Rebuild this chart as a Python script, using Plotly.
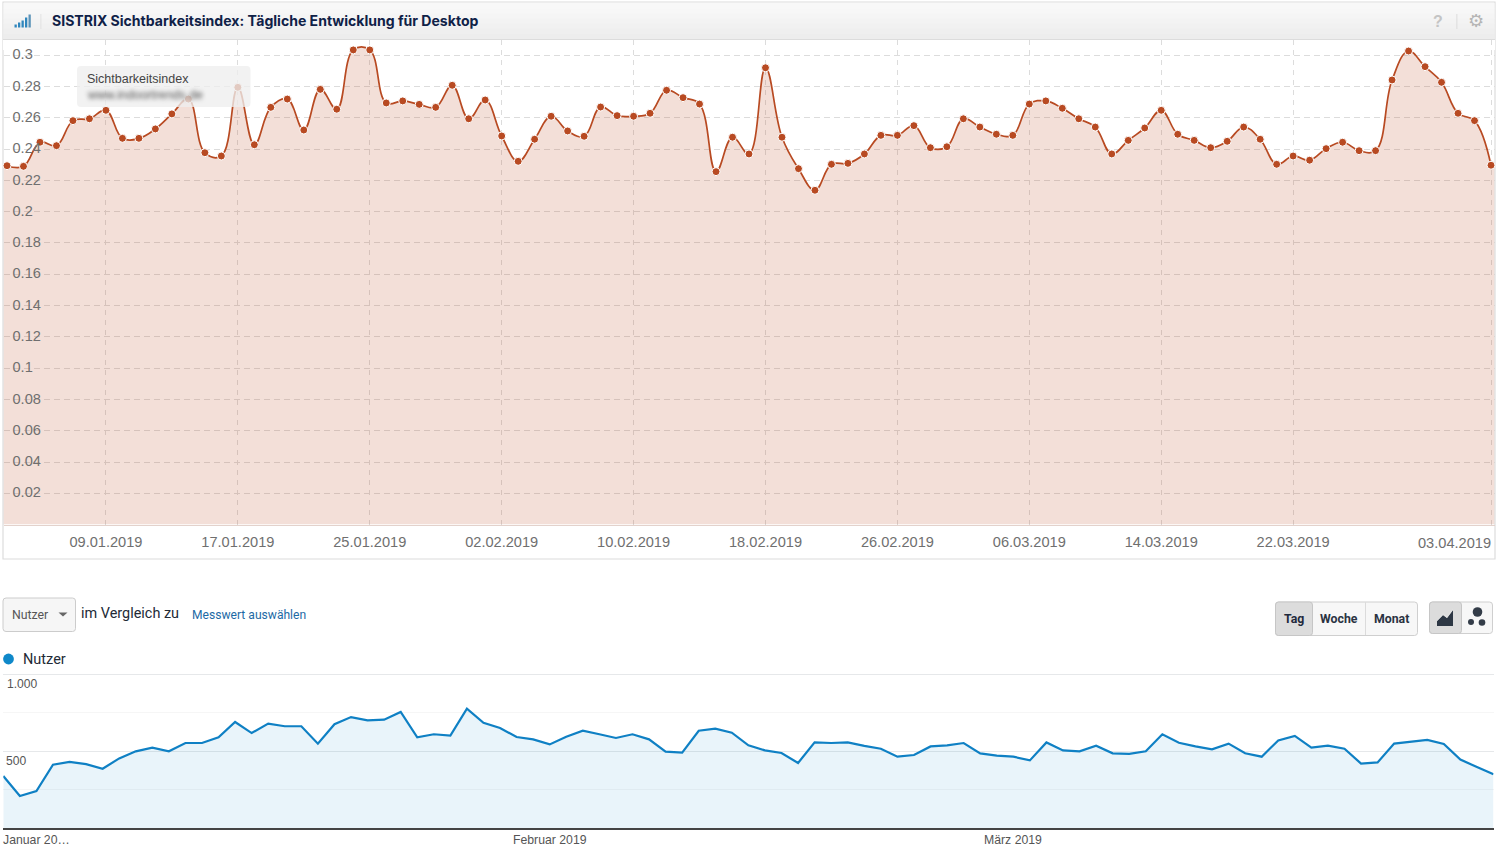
import pandas as pd
import plotly.graph_objects as go

start_date = "2019-01-03"
sichtbarkeit = [
    .2294, .2290, .2444, .2422, .2582, .2594, .2648, .2469, .2469, .2529, .2625, .2720, .2377, .2356, .2795, .2428,
    .2667, .2720, .2522, .2782, .2655, .3034, .3034, .2695, .2708, .2686, .2667, .2808, .2594, .2714, .2484, .2322,
    .2463, .2610, .2516, .2482, .2669, .2614, .2610, .2629, .2776, .2729, .2688, .2256, .2476, .2369, .2920, .2476,
    .2275, .2137, .2303, .2309, .2369, .2488, .2488, .2550, .2409, .2415, .2594, .2541, .2495, .2488, .2688, .2708,
    .2661, .2594, .2541, .2369, .2456, .2535, .2648, .2495, .2456, .2409, .2450, .2541, .2463, .2303, .2356, .2329,
    .2403, .2444, .2390, .2390, .2842, .3027, .2927, .2827, .2629, .2582, .2297,
]
nutzer = [
    338, 208, 241, 412, 430, 416, 386, 453, 499, 523, 499, 553, 553, 590, 690, 618, 679, 662, 662, 549, 675, 722, 701,
    705, 755, 590, 610, 601, 777, 685, 651, 592, 577, 544, 594, 633, 610, 586, 610, 577, 497, 490, 633, 646, 620, 538,
    505, 488, 423, 557, 553, 557, 534, 516, 464, 475, 531, 538, 553, 486, 471, 464, 440, 557, 505, 499, 536, 486, 482,
    499, 610, 555, 531, 512, 549, 486, 464, 570, 599, 523, 536, 516, 419, 427, 549, 562, 573, 547, 445, 397, 349,
]
top_y_ticks = [.02, .04, .06, .08, .1, .12, .14, .16, .18, .2, .22, .24, .26, .28, .3]
top_y_labels = ["0.02", "0.04", "0.06", "0.08", "0.1", "0.12", "0.14", "0.16", "0.18", "0.2", "0.22", "0.24", "0.26", "0.28", "0.3"]
top_x_ticks = ["2019-01-09", "2019-01-17", "2019-01-25", "2019-02-02", "2019-02-10", "2019-02-18", "2019-02-26",
               "2019-03-06", "2019-03-14", "2019-03-22", "2019-04-03"]
top_x_labels = ["09.01.2019", "17.01.2019", "25.01.2019", "02.02.2019", "10.02.2019", "18.02.2019", "26.02.2019",
                "06.03.2019", "14.03.2019", "22.03.2019", ""]
bottom_y_major = [500, 1000]
bottom_y_minor = [250, 750]

W, H = 1500, 847
dates = pd.date_range(start_date, periods=len(sichtbarkeit), freq="D")
px = lambda v: v / W
py = lambda v: 1 - v / H
ARIAL = "Liberation Sans, Arial, sans-serif"
ROBOTO = "Roboto, sans-serif"

shapes, annos = [], []

def rect(x0, y0, x1, y1, fill=None, line=None, lw=1, layer="below"):
    shapes.append(dict(type="rect", xref="paper", yref="paper", x0=px(x0), x1=px(x1), y0=py(y0), y1=py(y1),
                       fillcolor=fill or "rgba(0,0,0,0)", line=dict(color=line or "rgba(0,0,0,0)", width=lw if line else 0),
                       layer=layer))

def round_rect(x0, y0, x1, y1, r, fill, line=None, layer="above"):
    X0, X1, Y0, Y1 = px(x0), px(x1), py(y0), py(y1)
    rx, ry = r / W, r / H
    p = (f"M{X0+rx},{Y0} L{X1-rx},{Y0} Q{X1},{Y0} {X1},{Y0-ry} L{X1},{Y1+ry} Q{X1},{Y1} {X1-rx},{Y1} "
         f"L{X0+rx},{Y1} Q{X0},{Y1} {X0},{Y1+ry} L{X0},{Y0-ry} Q{X0},{Y0} {X0+rx},{Y0} Z")
    shapes.append(dict(type="path", xref="paper", yref="paper", path=p, fillcolor=fill,
                       line=dict(color=line or "rgba(0,0,0,0)", width=1 if line else 0), layer=layer))

def poly(pts, fill, layer="above"):
    p = "M" + " L".join(f"{px(a)},{py(b)}" for a, b in pts) + " Z"
    shapes.append(dict(type="path", xref="paper", yref="paper", path=p, fillcolor=fill, line=dict(width=0), layer=layer))

def circle(cx, cy, r, fill, layer="above"):
    shapes.append(dict(type="circle", xref="paper", yref="paper", x0=px(cx - r), x1=px(cx + r), y0=py(cy + r), y1=py(cy - r),
                       fillcolor=fill, line=dict(width=0), layer=layer))

def txt(x, y, s, size, color, family=ARIAL, anchor="left", weight=None):
    f = dict(size=size, color=color, family=family)
    if weight:
        f["weight"] = weight
    annos.append(dict(xref="paper", yref="paper", x=px(x), y=py(y), text=s, showarrow=False, xanchor=anchor, yanchor="middle",
                      font=f, borderpad=0, borderwidth=0))

# panel frame and header
rect(3, 2, 1495, 559, "white", "#dcdcdc", 1.2)
bands = ["#f8f8f8", "#f7f7f7", "#f5f5f5", "#f3f3f3", "#f1f1f1", "#efefef", "#ededed"]
for i, c in enumerate(bands):
    rect(3.5, 3 + i * 36 / 7, 1494.5, 3 + (i + 1) * 36 / 7 + .5, c, layer="above")
rect(3, 39, 1495, 40, "#dcdcdc", layer="above")
rect(3, 40, 1495, 50, "white", layer="between")
for i, (h) in enumerate([3, 5, 7, 10, 13]):
    rect(14.5 + i * 3.5, 27.5 - h, 16.8 + i * 3.5, 27.5, "#2f86bd" if i < 4 else "#5b93b8", layer="above")
rect(40.5, 14, 41.3, 29, "#dddddd", layer="above")
rect(1456.5, 14, 1457.3, 29, "#d5d5d5", layer="above")
txt(52, 20.7, "SISTRIX Sichtbarkeitsindex: Tägliche Entwicklung für Desktop", 14.05, "#0f2147", "Inter, sans-serif", weight=700)
txt(1438, 21, "?", 16, "#c4c4c4", ARIAL, "center", 700)
txt(1476, 20, "⚙", 18, "#b5b5b5", "DejaVu Sans", "center")

# tooltip
round_rect(77, 66, 250.5, 107, 4, "rgba(238,238,238,0.78)")
txt(87, 78.5, "Sichtbarkeitsindex", 12.5, "#444444")
txt(87, 95, "www.indoortrends.de", 12.3, "#555555")

# controls
round_rect(3, 598, 75.5, 631.5, 3, "#f6f6f6", "#cccccc")
txt(12, 614.7, "Nutzer", 12.3, "#555555", ROBOTO)
poly([(58.5, 612.5), (67.5, 612.5), (63, 616.5)], "#666666")
txt(81, 613, "im Vergleich zu", 14.45, "#222a36", ROBOTO)
txt(191.5, 614.7, "Messwert auswählen", 12.1, "#1d6aa5", ROBOTO)

round_rect(1275.5, 602, 1417.5, 635.5, 3, "#f7f7f7", "#cfcfcf")
round_rect(1275.5, 602, 1312.5, 635.5, 3, "#dcdcdc", "#c6c6c6")
rect(1365.3, 602.5, 1366, 635, "#cfcfcf", layer="above")
txt(1294, 618.5, "Tag", 12.3, "#1f2a3c", ROBOTO, "center", 700)
txt(1339, 618.5, "Woche", 12.3, "#2a3342", ROBOTO, "center", 700)
txt(1391.5, 618.5, "Monat", 12.3, "#2a3342", ROBOTO, "center", 700)

round_rect(1429.5, 602, 1492.5, 633.5, 3, "#f7f7f7", "#cfcfcf")
round_rect(1429.5, 602, 1461.5, 633.5, 3, "#dcdcdc", "#c6c6c6")
poly([(1437, 621), (1443, 615), (1447, 618), (1453, 610), (1453, 626), (1437, 626)], "#2d3744")
poly([(1437, 621), (1437, 620), (1443, 613), (1447, 616), (1453, 608), (1453, 610), (1447, 618), (1443, 615)], "#e0e0e0")
circle(1477.5, 612, 4.8, "#333c48")
circle(1471, 622, 3, "#333c48")
circle(1482, 622.5, 3.3, "#333c48")

# legend and lower-chart text
circle(8.5, 659, 5.4, "#0f88c9")
txt(23, 659, "Nutzer", 14.5, "#222a36", ROBOTO)
txt(7, 684, "1.000", 12.1, "#555555")
txt(6, 761.3, "500", 12.1, "#555555")
txt(3, 840.2, "Januar 20…", 12.25, "#555555")
txt(513, 840.2, "Februar 2019", 12.25, "#555555")
txt(984, 840.2, "März 2019", 12.25, "#555555")
txt(1491, 542.5, "03.04.2019", 14.6, "#6f6f6f", ARIAL, "right")

day = pd.Timedelta(days=1)
x_left = dates[0] - day * 3.5 / 16.49
x_right = dates[-1] + day * 3.5 / 16.49
FILL_TOP = "rgba(187,75,37,0.18)"

fig = go.Figure()
# the area runs on to both plot edges at the first and last value
for xs, v in (([x_left, dates[0]], sichtbarkeit[0]), ([dates[-1], x_right], sichtbarkeit[-1])):
    fig.add_trace(go.Scatter(x=xs, y=[v, v], mode="none", fill="tozeroy", fillcolor=FILL_TOP, xaxis="x", yaxis="y"))
fig.add_trace(go.Scatter(
    x=dates, y=sichtbarkeit, mode="lines+markers", name="Sichtbarkeitsindex",
    line=dict(color="#b84a22", width=1.7, shape="spline", smoothing=1.15),
    marker=dict(color="#b84a22", size=8, line=dict(color="white", width=1)),
    fill="tozeroy", fillcolor=FILL_TOP, xaxis="x", yaxis="y", cliponaxis=False,
))
fig.add_trace(go.Scatter(
    x=dates, y=nutzer, mode="lines", name="Nutzer",
    line=dict(color="#0f80c4", width=2.2),
    fill="tozeroy", fillcolor="rgba(15,128,196,0.09)", xaxis="x2", yaxis="y2",
))

fig.update_layout(
    width=W, height=H, autosize=False, margin=dict(l=0, r=0, t=0, b=0),
    paper_bgcolor="white", plot_bgcolor="rgba(0,0,0,0)", showlegend=False, hovermode=False,
    shapes=shapes, annotations=annos,
    xaxis=dict(domain=[px(3.5), px(1494.5)], range=[x_left, x_right],
               tickmode="array", tickvals=top_x_ticks, ticktext=top_x_labels, ticklen=0, ticklabelstandoff=4,
               tickfont=dict(family=ARIAL, size=14.6, color="#6f6f6f"),
               showgrid=True, gridcolor="#dcdcdc", griddash="5px,5px", gridwidth=1, zeroline=False,
               showline=True, linecolor="#e3d2cc", linewidth=1),
    yaxis=dict(domain=[py(524.6), py(40)], range=[0, (524.6 - 40) / 1564.5], anchor="x",
               tickmode="array", tickvals=top_y_ticks, ticktext=top_y_labels, ticklen=0,
               ticklabelposition="inside", ticklabelstandoff=6, ticklabelshift=-1,
               tickfont=dict(family=ARIAL, size=14.6, color="#6f6f6f"),
               showgrid=True, gridcolor="#dcdcdc", griddash="6px,4px", gridwidth=1, zeroline=False, showline=False),
    xaxis2=dict(domain=[px(3.3), px(1493.5)], range=[dates[0], dates[-1]], anchor="y2",
                showticklabels=False, ticklen=0, showgrid=False, zeroline=False,
                showline=True, linecolor="#444444", linewidth=1.5),
    yaxis2=dict(domain=[py(828), py(672.8)], range=[0, 1010], anchor="x2",
                tickmode="array", tickvals=bottom_y_major, showticklabels=False, ticklen=0,
                showgrid=True, gridcolor="#e6e8ea", gridwidth=1, zeroline=False, showline=False,
                minor=dict(tickmode="array", tickvals=bottom_y_minor, showgrid=True, gridcolor="#f6f6f6", gridwidth=1, ticklen=0)),
)

post = """
document.body.style.margin = '0';
document.body.style.overflow = 'hidden';
var blur = function () {
  document.querySelectorAll('.annotation').forEach(function (a) {
    if (a.textContent.indexOf('www.') === 0) { a.style.filter = 'blur(2.2px)'; }
  });
};
blur(); setTimeout(blur, 100);
"""
fig.write_html("out.html", post_script=post, config=dict(displayModeBar=False))
